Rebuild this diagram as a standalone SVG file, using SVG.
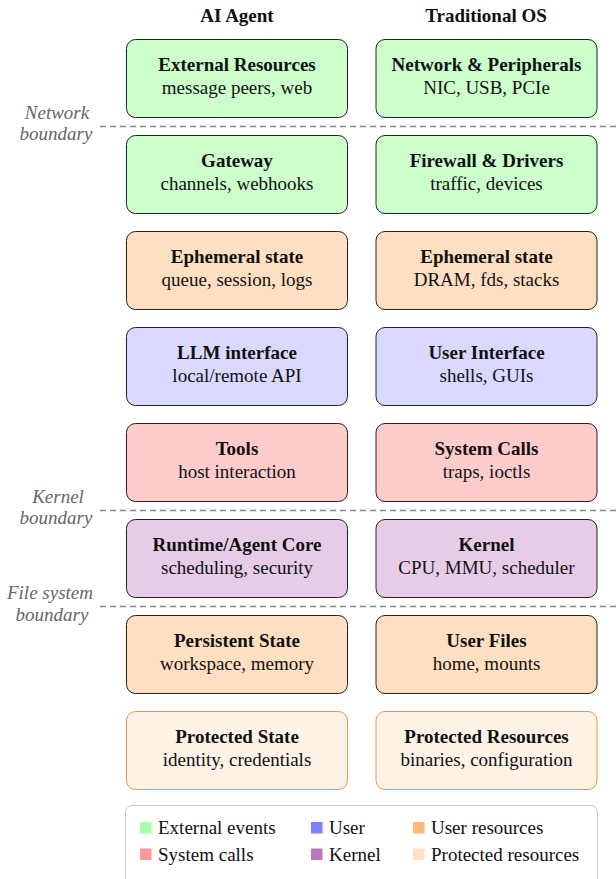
<svg xmlns="http://www.w3.org/2000/svg" width="616" height="879" viewBox="0 0 616 879">
<style>
text{font-family:"Liberation Serif","Times New Roman",serif;fill:#111;font-size:19px}
.h{font-weight:bold;text-anchor:middle}
.s{text-anchor:middle}
.b{font-style:italic;fill:#666;text-anchor:middle;font-size:19px}
.box{stroke:#222;stroke-width:1}
.g{fill:#ccffcc}.o{fill:#ffdfc2}.u{fill:#d9d9ff}.r{fill:#ffcccc}.k{fill:#e6cce6}
.p{fill:#fff2e6;stroke:#e8973f;stroke-width:1}
.dash{stroke:#888;stroke-width:1.3;stroke-dasharray:6 4}
.lt{font-size:19px}
</style>
<text class="h" x="237" y="22">AI Agent</text>
<text class="h" x="486" y="22">Traditional OS</text>
<g id="connectors">
<line class="dash" x1="100" y1="126.5" x2="616" y2="126.5"/>
<line class="dash" x1="100" y1="510.5" x2="616" y2="510.5"/>
<line class="dash" x1="100" y1="606.5" x2="616" y2="606.5"/>
</g>
<g id="labels">
<text class="b" x="57" y="119">Network</text>
<text class="b" x="56" y="140">boundary</text>
<text class="b" x="58" y="503">Kernel</text>
<text class="b" x="56" y="524">boundary</text>
<text class="b" x="50" y="599">File system</text>
<text class="b" x="52" y="621">boundary</text>
</g>
<g id="ext"><rect class="box g" x="126.5" y="39.5" width="221" height="78" rx="9"/><text class="h" x="237" y="71">External Resources</text><text class="s" x="237" y="94">message peers, web</text></g>
<g id="net"><rect class="box g" x="376" y="39.5" width="221" height="78" rx="9"/><text class="h" x="486.5" y="71">Network &amp; Peripherals</text><text class="s" x="486.5" y="94">NIC, USB, PCIe</text></g>
<g id="gateway"><rect class="box g" x="126.5" y="135.5" width="221" height="78" rx="9"/><text class="h" x="237" y="167">Gateway</text><text class="s" x="237" y="190">channels, webhooks</text></g>
<g id="firewall"><rect class="box g" x="376" y="135.5" width="221" height="78" rx="9"/><text class="h" x="486.5" y="167">Firewall &amp; Drivers</text><text class="s" x="486.5" y="190">traffic, devices</text></g>
<g id="eph1"><rect class="box o" x="126.5" y="231.5" width="221" height="78" rx="9"/><text class="h" x="237" y="263">Ephemeral state</text><text class="s" x="237" y="286">queue, session, logs</text></g>
<g id="eph2"><rect class="box o" x="376" y="231.5" width="221" height="78" rx="9"/><text class="h" x="486.5" y="263">Ephemeral state</text><text class="s" x="486.5" y="286">DRAM, fds, stacks</text></g>
<g id="llm"><rect class="box u" x="126.5" y="327.5" width="221" height="78" rx="9"/><text class="h" x="237" y="359">LLM interface</text><text class="s" x="237" y="382">local/remote API</text></g>
<g id="ui"><rect class="box u" x="376" y="327.5" width="221" height="78" rx="9"/><text class="h" x="486.5" y="359">User Interface</text><text class="s" x="486.5" y="382">shells, GUIs</text></g>
<g id="tools"><rect class="box r" x="126.5" y="423.5" width="221" height="78" rx="9"/><text class="h" x="237" y="455">Tools</text><text class="s" x="237" y="478">host interaction</text></g>
<g id="syscalls"><rect class="box r" x="376" y="423.5" width="221" height="78" rx="9"/><text class="h" x="486.5" y="455">System Calls</text><text class="s" x="486.5" y="478">traps, ioctls</text></g>
<g id="runtime"><rect class="box k" x="126.5" y="519.5" width="221" height="78" rx="9"/><text class="h" x="237" y="551">Runtime/Agent Core</text><text class="s" x="237" y="574">scheduling, security</text></g>
<g id="kernel"><rect class="box k" x="376" y="519.5" width="221" height="78" rx="9"/><text class="h" x="486.5" y="551">Kernel</text><text class="s" x="486.5" y="574">CPU, MMU, scheduler</text></g>
<g id="persist"><rect class="box o" x="126.5" y="615.5" width="221" height="78" rx="9"/><text class="h" x="237" y="647">Persistent State</text><text class="s" x="237" y="670">workspace, memory</text></g>
<g id="userfiles"><rect class="box o" x="376" y="615.5" width="221" height="78" rx="9"/><text class="h" x="486.5" y="647">User Files</text><text class="s" x="486.5" y="670">home, mounts</text></g>
<g id="protstate"><rect class="p" x="126.5" y="711.5" width="221" height="78" rx="9"/><text class="h" x="237" y="743">Protected State</text><text class="s" x="237" y="766">identity, credentials</text></g>
<g id="protres"><rect class="p" x="376" y="711.5" width="221" height="78" rx="9"/><text class="h" x="486.5" y="743">Protected Resources</text><text class="s" x="486.5" y="766">binaries, configuration</text></g>
<g id="legend">
<rect x="125.5" y="805.5" width="472" height="90" rx="7" fill="#fff" stroke="#c8c8c8" stroke-width="1"/>
<rect x="140" y="822" width="11.5" height="11.5" fill="#aaffaa"/><text class="lt" x="158" y="834">External events</text>
<rect x="311" y="822" width="11.5" height="11.5" fill="#8080ff"/><text class="lt" x="329" y="834">User</text>
<rect x="413" y="822" width="11.5" height="11.5" fill="#ffb877"/><text class="lt" x="431" y="834">User resources</text>
<rect x="140" y="848.5" width="11.5" height="11.5" fill="#ff9999"/><text class="lt" x="158" y="861">System calls</text>
<rect x="311" y="848.5" width="11.5" height="11.5" fill="#bb77bb"/><text class="lt" x="329" y="861">Kernel</text>
<rect x="413" y="848.5" width="11.5" height="11.5" fill="#ffe0c4"/><text class="lt" x="431" y="861">Protected resources</text>
</g>
</svg>
